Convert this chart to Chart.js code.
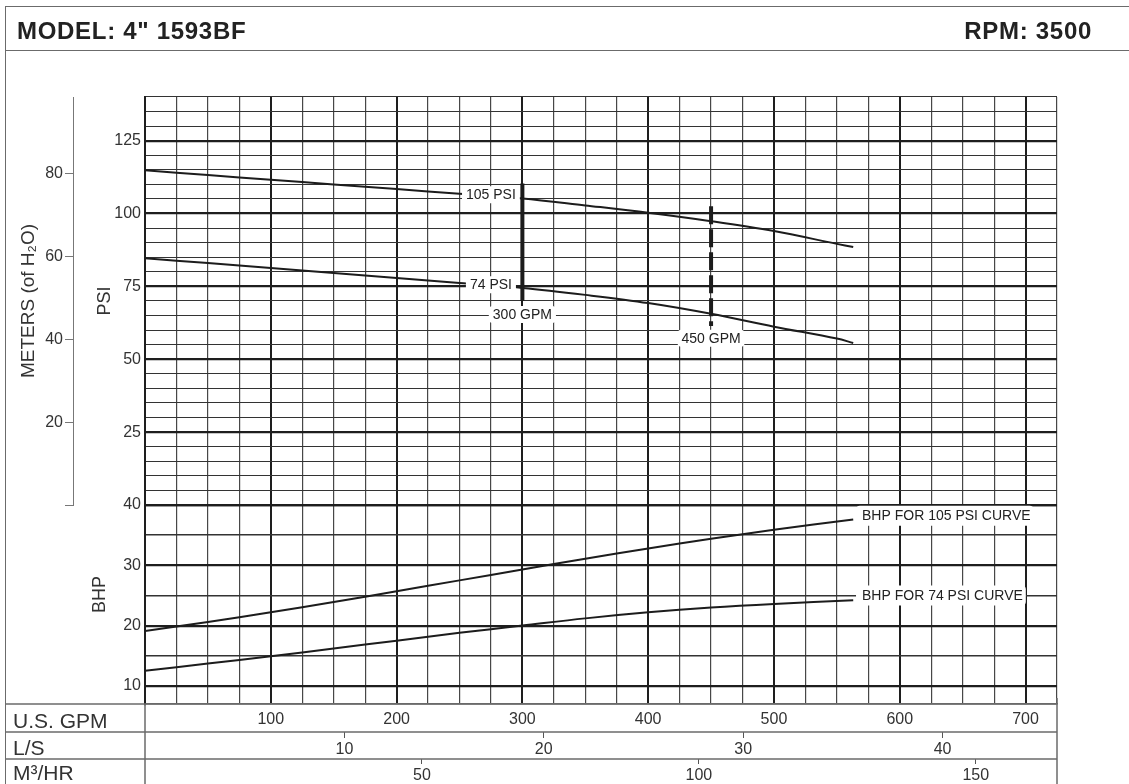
<!DOCTYPE html>
<html>
<head>
<meta charset="utf-8">
<title>MODEL: 4" 1593BF</title>
<script src="https://cdn.jsdelivr.net/npm/chart.js@4.4.1/dist/chart.umd.min.js"></script>
<style>
  html, body { margin: 0; padding: 0; background: #fff; }
  body { width: 1129px; height: 784px; position: relative; overflow: hidden; font-family: "Liberation Sans", Arial, sans-serif; color: #222; }
  #wrap { position: absolute; left: 0; top: 0; width: 1129px; height: 784px; }
  #frame { position: absolute; left: 5px; top: 6px; width: 1130px; height: 790px; border-left: 1.5px solid #6b6b6b; border-top: 1.5px solid #6b6b6b; pointer-events: none; }
  #headline { position: absolute; left: 5px; top: 50px; width: 1130px; border-top: 1.5px solid #6b6b6b; pointer-events: none; }
  .head { position: absolute; top: 16px; font-weight: bold; font-size: 24px; line-height: 30px; letter-spacing: 0.7px; color: #222; }
  #model { left: 17px; }
  #rpm { right: 37px; }
</style>
</head>
<body>
<div id="wrap"><canvas id="pump-chart"></canvas></div>
<div id="frame"></div>
<div id="headline"></div>
<div class="head" id="model">MODEL: 4" 1593BF</div>
<div class="head" id="rpm">RPM: 3500</div>
<script>
// head curves (PSI vs U.S. GPM)
const gpmHead = [0, 50, 100, 150, 200, 250, 300, 350, 400, 450, 500, 550, 563];
const psi105 = [114.9, 113.2, 111.6, 110.0, 108.4, 106.8, 105.2, 102.8, 100.3, 97.4, 94.0, 89.6, 88.5];
const psi74 = [84.7, 83.0, 81.3, 79.6, 77.9, 76.2, 74.5, 72.1, 69.3, 65.6, 61.2, 57.1, 55.6];

// brake horsepower curves
const gpmBhp = [0, 50, 100, 150, 200, 250, 300, 350, 400, 450, 500, 563];
const bhp105 = [19.1, 20.6, 22.2, 23.9, 25.7, 27.5, 29.3, 31.1, 32.8, 34.4, 35.9, 37.6];
const bhp74 = [12.5, 13.7, 14.9, 16.2, 17.5, 18.8, 20.0, 21.2, 22.2, 23.0, 23.6, 24.2];

// duty point markers (PSI span of the vertical bars)
const mark300 = [110.3, 70.0];
const mark450 = [102.5, 61.4];

// callouts on the head curves
const noteText = ['105 PSI', '74 PSI', '300 GPM', '450 GPM'];
const noteGpm = [275, 275, 300, 450];
const notePsi = [106.5, 75.6, 65.4, 57.2];

// callouts on the BHP curves (left edge of the text)
const bhpNoteText = ['BHP FOR 105 PSI CURVE', 'BHP FOR 74 PSI CURVE'];
const bhpNoteGpm = [570, 570];
const bhpNoteVal = [38.2, 25.0];

// tick labels
const gpmLabels = [100, 200, 300, 400, 500, 600, 700];
const lsLabels = [10, 20, 30, 40];
const m3Labels = [50, 100, 150];
const psiLabels = [25, 50, 75, 100, 125];
const bhpLabels = [10, 20, 30, 40];
const meterLabels = [20, 40, 60, 80];
const rowNames = ['U.S. GPM', 'L/S', 'M\u00b3/HR'];

// unit conversions
const gpmMax = 725;
const psiMax = 140;
const meterPerPsi = 0.70307;
const gpmPerLs = 15.8503;
const gpmPerM3h = 4.40287;

const FONT = '"Liberation Sans", Arial, sans-serif';
Chart.defaults.font.family = FONT;
Chart.defaults.color = '#333';

const pts = (xs, ys) => xs.map((x, i) => ({ x: x, y: ys[i] }));
const clear = 'rgba(0,0,0,0)';

function roundBox(ctx, x, y, w, h, r) {
    ctx.beginPath();
    ctx.moveTo(x + r, y);
    ctx.arcTo(x + w, y, x + w, y + h, r);
    ctx.arcTo(x + w, y + h, x, y + h, r);
    ctx.arcTo(x, y + h, x, y, r);
    ctx.arcTo(x, y, x + w, y, r);
    ctx.closePath();
    ctx.fill();
}

// white-backed callouts
const notesPlugin = {
    id: 'notes',
    afterDatasetsDraw(chart) {
        const { ctx, scales } = chart;
        ctx.save();
        ctx.font = '14px ' + FONT;
        ctx.textBaseline = 'middle';
        noteText.forEach((t, i) => {
            const cx = scales.x.getPixelForValue(noteGpm[i]);
            const cy = scales.psi.getPixelForValue(notePsi[i]);
            const w = ctx.measureText(t).width + 8;
            ctx.fillStyle = '#fff';
            roundBox(ctx, cx - w / 2, cy - 8.5, w, 17, 4);
            ctx.fillStyle = '#222';
            ctx.textAlign = 'center';
            ctx.fillText(t, cx, cy + 0.5);
        });
        bhpNoteText.forEach((t, i) => {
            const lx = scales.x.getPixelForValue(bhpNoteGpm[i]);
            const cy = scales.bhp.getPixelForValue(bhpNoteVal[i]);
            const w = ctx.measureText(t).width;
            ctx.fillStyle = '#fff';
            roundBox(ctx, lx - 6, cy - 10, w + 9, 20, 4);
            ctx.fillStyle = '#222';
            ctx.textAlign = 'left';
            ctx.fillText(t, lx, cy + 0.5);
        });
        ctx.restore();
    }
};

// the flow-unit table under the grid
const tablePlugin = {
    id: 'table',
    afterDraw(chart) {
        const { ctx, chartArea, scales } = chart;
        const rows = [scales.x, scales.ls, scales.m3];
        ctx.save();
        ctx.strokeStyle = '#6b6b6b';
        ctx.lineWidth = 1.5;
        ctx.beginPath();
        rows.forEach(s => {
            ctx.moveTo(5, s.top);
            ctx.lineTo(chartArea.right, s.top);
        });
        ctx.moveTo(chartArea.left, scales.x.top);
        ctx.lineTo(chartArea.left, chart.height);
        ctx.moveTo(chartArea.right, scales.x.top - 6);
        ctx.lineTo(chartArea.right, chart.height);
        ctx.stroke();
        ctx.fillStyle = '#333';
        ctx.font = '21px ' + FONT;
        ctx.textBaseline = 'alphabetic';
        ctx.textAlign = 'left';
        rows.forEach((s, i) => ctx.fillText(rowNames[i], 13, s.bottom - 4));
        ctx.restore();
    }
};

const curveStyle = { borderColor: '#1c1c1c', borderWidth: 2, pointRadius: 0, tension: 0.35 };

const ctx = document.getElementById('pump-chart').getContext('2d');
const chart = new Chart(ctx, {
    type: 'line',
    data: {
        datasets: [
            { ...curveStyle, data: pts(gpmHead, psi105), yAxisID: 'psi' },
            { ...curveStyle, data: pts(gpmHead, psi74), yAxisID: 'psi' },
            { ...curveStyle, data: pts(gpmBhp, bhp105), yAxisID: 'bhp' },
            { ...curveStyle, data: pts(gpmBhp, bhp74), yAxisID: 'bhp' },
            { data: pts([300, 300], mark300), yAxisID: 'psi', borderColor: '#1c1c1c', borderWidth: 4, pointRadius: 0 },
            { data: pts([450, 450], mark450), yAxisID: 'psi', borderColor: '#1c1c1c', borderWidth: 4, pointRadius: 0, borderDash: [18, 5] }
        ]
    },
    options: {
        responsive: true,
        maintainAspectRatio: false,
        animation: false,
        events: [],
        layout: { padding: { top: 97, left: 5, right: 72, bottom: 0 } },
        plugins: {
            legend: { display: false },
            tooltip: { enabled: false }
        },
        scales: {
            x: {
                type: 'linear',
                position: 'bottom',
                min: 0,
                max: gpmMax,
                grid: {
                    drawTicks: false,
                    color: c => c.tick.value % 100 === 0 ? '#1e1e1e' : '#474747',
                    lineWidth: c => c.tick.value % 100 === 0 ? 2 : 1.2
                },
                border: { display: true, color: '#6b6b6b', width: 1.5 },
                ticks: {
                    stepSize: 25, autoSkip: false, maxRotation: 0, padding: 6,
                    font: { size: 16 },
                    callback: v => gpmLabels.includes(v) ? String(v) : ''
                },
                afterFit: s => { s.height = 28; }
            },
            ls: {
                type: 'linear',
                position: 'bottom',
                min: 0,
                max: gpmMax / gpmPerLs,
                grid: {
                    drawOnChartArea: false, tickLength: 6, lineWidth: 1,
                    color: c => lsLabels.includes(c.tick.value) ? '#555' : clear
                },
                border: { display: false },
                ticks: {
                    stepSize: 10, includeBounds: false, autoSkip: false, maxRotation: 0, padding: 1.5,
                    font: { size: 16 },
                    callback: v => lsLabels.includes(v) ? String(v) : ''
                },
                afterFit: s => { s.height = 27; }
            },
            m3: {
                type: 'linear',
                position: 'bottom',
                min: 0,
                max: gpmMax / gpmPerM3h,
                grid: {
                    drawOnChartArea: false, tickLength: 5, lineWidth: 1,
                    color: c => m3Labels.includes(c.tick.value) ? '#555' : clear
                },
                border: { display: false },
                ticks: {
                    stepSize: 50, includeBounds: false, autoSkip: false, maxRotation: 0, padding: 2,
                    font: { size: 16 },
                    callback: v => m3Labels.includes(v) ? String(v) : ''
                },
                afterFit: s => { s.height = 25; }
            },
            bhp: {
                type: 'linear',
                position: 'left',
                stack: 'grid',
                stackWeight: 199,
                min: 7,
                max: 40,
                grid: {
                    drawTicks: false,
                    color: c => c.tick.value % 10 === 0 ? '#1e1e1e' : '#333',
                    lineWidth: c => c.tick.value % 10 === 0 ? 2.2 : 1.4
                },
                border: { color: '#1e1e1e', width: 2 },
                ticks: {
                    stepSize: 5, includeBounds: false, autoSkip: false, padding: 4,
                    font: { size: 16 },
                    callback: v => bhpLabels.includes(v) ? String(v) : ''
                },
                title: { display: true, text: '    BHP', font: { size: 18 }, padding: { top: 16, bottom: 0 } },
                afterFit: s => { s.width = 72; }
            },
            psi: {
                type: 'linear',
                position: 'left',
                stack: 'grid',
                stackWeight: 408,
                min: 0,
                max: psiMax,
                grid: {
                    drawTicks: false,
                    color: c => c.tick.value % 25 === 0 ? '#1e1e1e' : '#333',
                    lineWidth: c => c.tick.value % 25 === 0 ? 2.2 : 1.1
                },
                border: { color: '#1e1e1e', width: 2 },
                ticks: {
                    stepSize: 5, autoSkip: false, padding: 4,
                    font: { size: 16 },
                    callback: v => psiLabels.includes(v) ? String(v) : ''
                },
                title: { display: true, text: 'PSI', font: { size: 18 }, padding: { top: 21, bottom: 0 } },
                afterFit: s => { s.width = 72; }
            },
            spacer: {
                type: 'linear',
                position: 'left',
                stack: 'meters',
                stackWeight: 199,
                display: false,
                afterFit: s => { s.width = 68; }
            },
            meters: {
                type: 'linear',
                position: 'left',
                stack: 'meters',
                stackWeight: 408,
                min: 0,
                max: psiMax * meterPerPsi,
                grid: { drawOnChartArea: false, tickLength: 8, color: '#777', lineWidth: 1 },
                border: { color: '#777', width: 1 },
                ticks: {
                    stepSize: 20, includeBounds: false, autoSkip: false, padding: 2,
                    font: { size: 16 },
                    callback: v => meterLabels.includes(v) ? String(v) : ''
                },
                title: { display: true, text: 'METERS (of H\u2082O)', font: { size: 19 }, padding: { top: 12, bottom: 0 } },
                afterFit: s => { s.width = 68; }
            }
        }
    },
    plugins: [notesPlugin, tablePlugin]
});
</script>
</body>
</html>
